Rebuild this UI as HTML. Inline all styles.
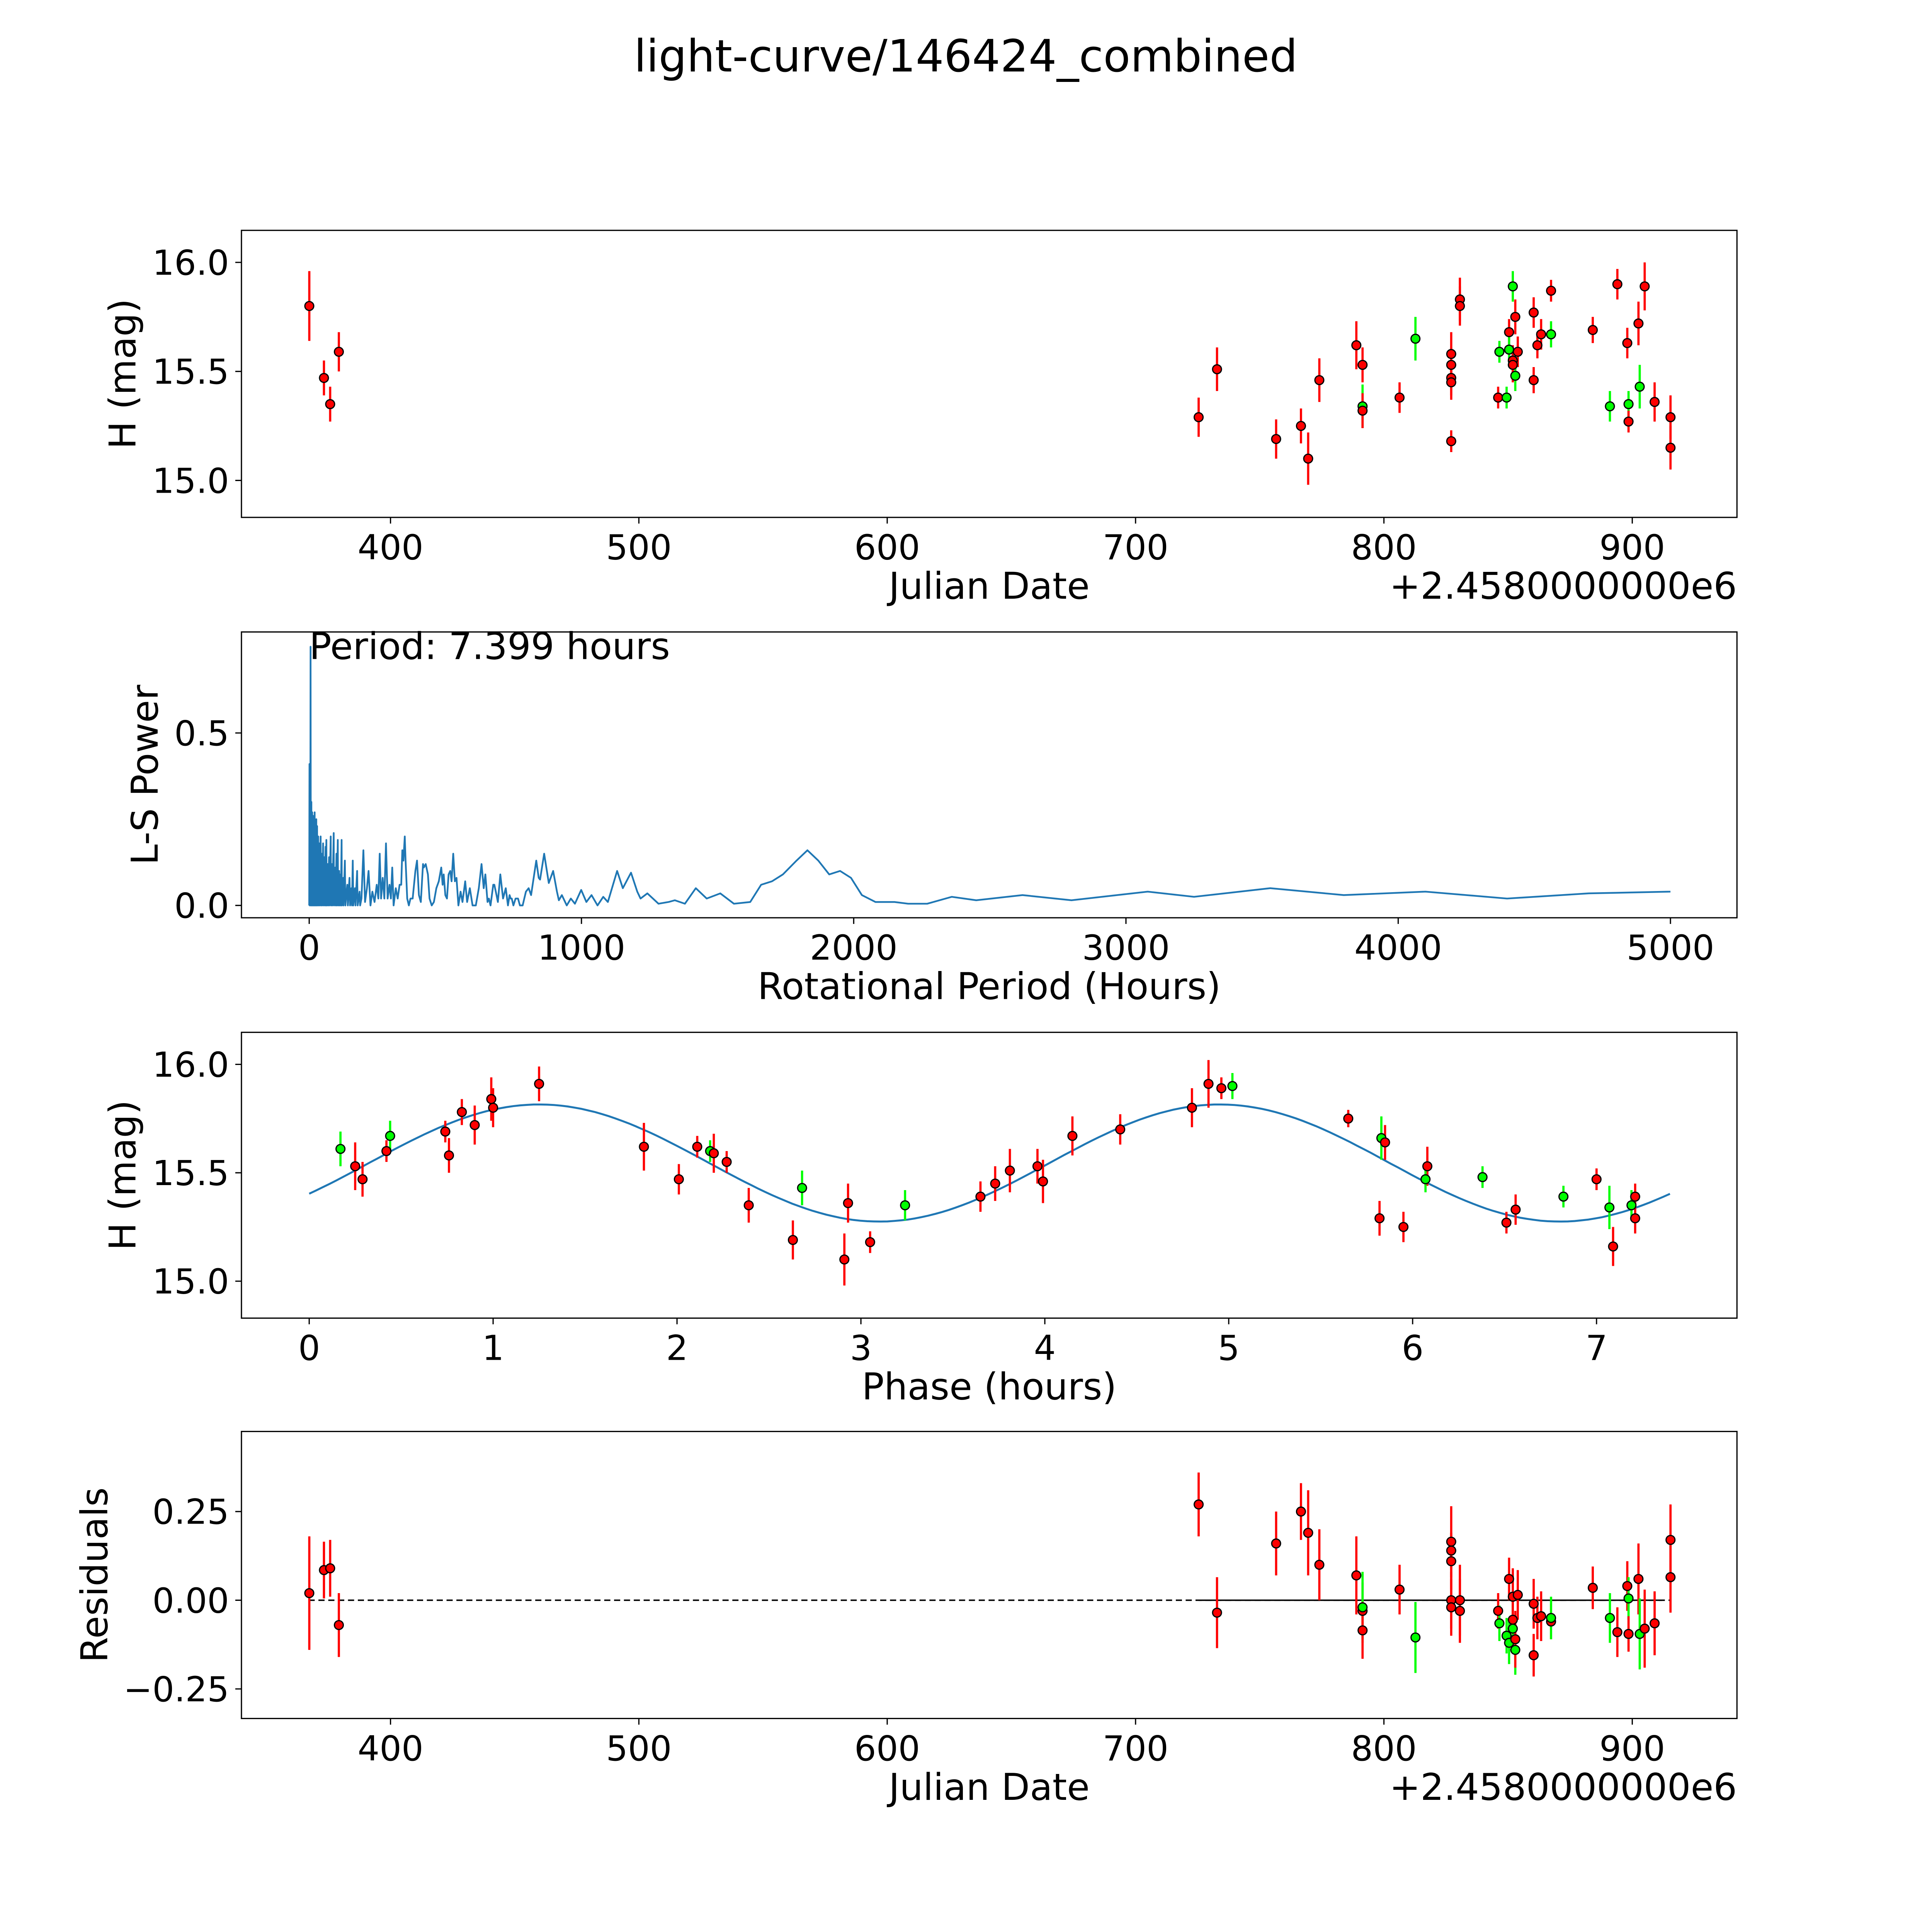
<!DOCTYPE html>
<html><head><meta charset="utf-8">
<style>html,body{margin:0;padding:0;background:#fff;overflow:hidden;width:100%;height:100%}svg{display:block;width:100vw;height:100vh}</style>
</head><body>
<svg id="fig" viewBox="0 0 1568 1568" preserveAspectRatio="xMinYMin meet" xmlns="http://www.w3.org/2000/svg" font-family="'DejaVu Sans','Liberation Sans',sans-serif">
<rect width="1568" height="1568" fill="#fff"/>
<text x="784" y="58" font-size="36" text-anchor="middle">light-curve/146424_combined</text>
</svg>
<script>
// ---- data ----
const lcDates=[367.3,373.2,375.7,379.2,725.4,732.8,756.6,766.6,769.5,774,788.9,791.4,791.4,791.4,806.3,812.7,827.1,827.1,827.1,827.1,827.1,830.6,830.6,846,846.5,849.4,850.4,850.4,851.9,851.9,851.9,852.9,852.9,853.9,860.3,860.3,861.8,863.3,867.3,867.3,884.1,891,894,898,898.5,898.5,902.5,903,905,909,915.4,915.4];
const lcMags=[15.80,15.47,15.35,15.59,15.29,15.51,15.19,15.25,15.10,15.46,15.62,15.53,15.34,15.32,15.38,15.65,15.58,15.53,15.47,15.45,15.18,15.83,15.80,15.38,15.59,15.38,15.68,15.60,15.55,15.89,15.53,15.48,15.75,15.59,15.46,15.77,15.62,15.67,15.87,15.67,15.69,15.34,15.90,15.63,15.35,15.27,15.72,15.43,15.89,15.36,15.29,15.15];
const lcErrs=[0.16,0.08,0.08,0.09,0.09,0.1,0.09,0.08,0.12,0.1,0.11,0.08,0.1,0.08,0.07,0.1,0.1,0.08,0.08,0.08,0.05,0.1,0.09,0.05,0.05,0.05,0.06,0.06,0.07,0.07,0.08,0.07,0.08,0.07,0.06,0.07,0.06,0.07,0.05,0.06,0.06,0.07,0.07,0.07,0.06,0.05,0.1,0.1,0.11,0.09,0.1,0.1];
const lcGreen=[0,0,0,0,0,0,0,0,0,0,0,0,1,0,0,1,0,0,0,0,0,0,0,0,1,1,0,1,0,1,0,1,0,0,0,0,0,0,0,1,0,1,0,0,1,0,0,1,0,0,0,0];
const resValues=[0.02,0.085,0.09,-0.07,0.27,-0.035,0.16,0.25,0.19,0.10,0.07,-0.03,-0.02,-0.085,0.03,-0.105,0.165,0.11,0.0,-0.02,0.14,0.0,-0.03,-0.03,-0.065,-0.10,0.06,-0.12,-0.055,-0.08,0.01,-0.14,-0.11,0.015,-0.155,-0.01,-0.05,-0.045,-0.06,-0.05,0.035,-0.05,-0.09,0.04,0.005,-0.095,0.06,-0.095,-0.08,-0.065,0.17,0.065];
const phPhase=[0.17,0.25,0.29,0.42,0.44,0.74,0.76,0.83,0.90,0.99,1.0,1.25,1.82,2.01,2.11,2.18,2.2,2.27,2.39,2.63,2.68,2.91,2.93,3.05,3.24,3.65,3.73,3.81,3.96,3.99,4.15,4.41,4.80,4.89,4.96,5.02,5.65,5.83,5.85,5.82,5.95,6.08,6.07,6.38,6.51,6.56,6.82,7.0,7.07,7.09,7.19,7.21,7.21];
const phMags=[15.61,15.53,15.47,15.60,15.67,15.69,15.58,15.78,15.72,15.84,15.80,15.91,15.62,15.47,15.62,15.60,15.59,15.55,15.35,15.19,15.43,15.10,15.36,15.18,15.35,15.39,15.45,15.51,15.53,15.46,15.67,15.70,15.80,15.91,15.89,15.90,15.75,15.66,15.64,15.29,15.25,15.53,15.47,15.48,15.27,15.33,15.39,15.47,15.34,15.16,15.35,15.29,15.39];
const phErrs=[0.08,0.11,0.08,0.05,0.07,0.05,0.08,0.06,0.09,0.1,0.09,0.08,0.11,0.07,0.05,0.05,0.09,0.05,0.08,0.09,0.08,0.12,0.09,0.05,0.07,0.07,0.08,0.1,0.08,0.1,0.09,0.07,0.09,0.11,0.05,0.06,0.04,0.1,0.08,0.08,0.07,0.09,0.06,0.05,0.05,0.07,0.05,0.05,0.1,0.09,0.07,0.07,0.06];
const phGreen=[1,0,0,0,1,0,0,0,0,0,0,0,0,0,0,1,0,0,0,0,1,0,0,0,1,0,0,0,0,0,0,0,0,0,0,1,0,1,0,0,0,0,1,1,0,0,1,0,1,0,1,0,0];
const lsPeriods=[0,1,2,3,4,5,6,8,9,11,12,14,15,17,18,20,21,23,24,26,27,29,30,33,34,37,38,42,43,46,47,51,52,56,57,60,61,63,64,68,69,73,74,79,80,84,85,90,91,96,97,100,101,105,106,110,111,115,116,119,120,125,126,131,133,140,142,148,150,155,157,160,162,168,170,176,178,185,187,192,199,205,212,218,225,232,240,248,254,259,264,270,276,282,288,295,300,305,310,318,325,332,338,342,346,351,354,360,366,372,380,390,396,403,410,418,421,428,436,442,450,458,467,476,485,490,494,500,506,512,518,523,529,535,541,548,556,563,573,580,590,600,612,623,633,641,647,655,660,666,676,680,688,693,702,712,722,730,736,740,744,750,758,767,774,784,796,806,815,834,843,848,863,880,896,910,917,928,946,961,976,999,1018,1037,1059,1080,1097,1131,1152,1182,1205,1217,1242,1283,1320,1343,1380,1420,1460,1510,1560,1620,1660,1700,1740,1790,1830,1870,1910,1950,1990,2030,2080,2150,2200,2270,2360,2450,2620,2800,3080,3250,3530,3800,4100,4400,4700,5000];
const lsPower=[0,0.41,0,0.3,0.05,0.75,0,0.3,0,0.27,0,0.26,0,0.25,0,0.27,0,0.24,0,0.25,0,0.23,0,0.2,0,0.18,0,0.2,0,0.15,0,0.18,0,0.14,0,0.17,0,0.19,0,0.12,0,0.14,0,0.2,0,0.12,0,0.21,0,0.11,0,0.15,0,0.19,0,0.1,0,0.09,0,0.19,0,0.08,0,0.13,0,0.06,0,0.08,0,0.05,0,0.13,0,0.05,0,0.1,0,0.04,0,0.02,0.16,0.01,0.05,0.1,0,0.04,0.01,0.06,0.02,0.15,0.02,0.08,0.02,0.18,0.02,0.06,0.02,0.11,0,0.05,0.02,0.06,0.06,0.16,0.13,0.2,0.13,0.02,0,0.02,0.02,0.1,0.13,0.03,0.01,0.12,0.11,0.12,0.09,0.02,0,0.01,0.05,0.07,0.11,0.06,0.09,0.03,0.02,0.09,0.1,0.07,0.15,0.07,0.08,0,0.04,0.01,0.07,0.01,0.05,0,0,0.05,0.12,0.05,0.09,0.01,0.02,0,0.06,0.06,0.03,0.01,0.09,0.02,0.05,0,0.03,0.02,0.02,0,0.02,0.02,0,0,0.04,0.05,0.03,0.13,0.08,0.075,0.15,0.065,0.1,0.04,0.015,0.03,0,0.02,0.005,0.045,0.01,0.03,0,0.025,0.01,0.1,0.05,0.095,0.04,0.02,0.035,0.005,0.01,0.015,0.005,0.05,0.02,0.035,0.005,0.01,0.06,0.07,0.09,0.13,0.16,0.13,0.09,0.1,0.08,0.03,0.01,0.01,0.005,0.005,0.025,0.015,0.03,0.015,0.04,0.025,0.05,0.03,0.04,0.02,0.035,0.04];
const fitMean=15.545, fitAmp=0.27, fitHalfPeriod=3.7, fitOffset=0.325, periodHours=7.399;

// ---- drawing ----
const NS='http://www.w3.org/2000/svg', svg=document.getElementById('fig');
(function(){const w=Math.min(window.innerWidth,window.innerHeight)-1;svg.style.width=w+'px';svg.style.height=w+'px';})();
function mk(tag,attrs,parent){const e=document.createElementNS(NS,tag);for(const k in attrs)e.setAttribute(k,attrs[k]);(parent||svg).appendChild(e);return e;}
function lin(d0,d1,p0,p1){return v=>p0+(v-d0)*(p1-p0)/(d1-d0);}
function panel(name,box,xs,ys,xt,yt,xl,yl,offset,ylOff){
  const g=mk('g',{});
  
  
  const [x0,y0,x1,y1]=box;
  xt.forEach(t=>{const p=xs(t);mk('line',{x1:p,x2:p,y1:y1,y2:y1+5,stroke:'#000','stroke-width':1},g);
    const tx=mk('text',{x:p,y:y1+34,'font-size':28,'text-anchor':'middle'},g);tx.textContent=t;
    });
  yt.forEach(t=>{const p=ys(t);mk('line',{x1:x0-5,x2:x0,y1:p,y2:p,stroke:'#000','stroke-width':1},g);
    const tx=mk('text',{x:x0-10,y:p+10,'font-size':28,'text-anchor':'end'},g);tx.textContent=t.lab;
    });
  const xa=mk('text',{x:(x0+x1)/2,y:y1+66,'font-size':30,'text-anchor':'middle'},g);xa.textContent=xl;
  
  const ya=mk('text',{x:0,y:0,'font-size':30,'text-anchor':'middle',transform:`translate(${x0-ylOff},${(y0+y1)/2}) rotate(-90)`},g);ya.textContent=yl;
  
  if(offset){const o=mk('text',{x:x1,y:y1+66,'font-size':30,'text-anchor':'end'},g);o.textContent=offset;
    }
  return g;
}
function frame(g,box){const r=mk('rect',{x:box[0],y:box[1],width:box[2]-box[0],height:box[3]-box[1],fill:'none',stroke:'#000','stroke-width':1},g);
  }
function yt(vals,fmt){return vals.map(v=>{const o=Number(v);return {valueOf:()=>o,lab:fmt(v)};});}
function pts(g,xsArr,ysArr,errs,green,xs,ys){
  xsArr.forEach((xv,i)=>{const c=green[i]?'#00ff00':'#ff0000';
    const l=mk('line',{x1:xs(xv),x2:xs(xv),y1:ys(ysArr[i]-errs[i]),y2:ys(ysArr[i]+errs[i]),stroke:c,'stroke-width':1.8},g);
    });
  xsArr.forEach((xv,i)=>{const c=green[i]?'#00ff00':'#ff0000';
    const m=mk('circle',{cx:xs(xv),cy:ys(ysArr[i]),r:3.6,fill:c,stroke:'#000','stroke-width':1},g);
    });
}
const jdX=lin(400,900,317,1325);
// panel 1
{const box=[196,187,1410,420];const ys=lin(15,16,390,213);
 const g=panel('light-curve-panel',box,jdX,ys,[400,500,600,700,800,900],yt([15,15.5,16],v=>v.toFixed(1)),'Julian Date','H (mag)','+2.4580000000e6',86);
 pts(g,lcDates,lcMags,lcErrs,lcGreen,jdX,ys);frame(g,box);}
// panel 2
{const box=[196,513,1410,745];const xs=lin(0,5000,251,1356),ys=lin(0,0.5,735,595);
 const g=panel('periodogram-panel',box,xs,ys,[0,1000,2000,3000,4000,5000],yt([0,0.5],v=>v.toFixed(1)),'Rotational Period (Hours)','L-S Power',null,68);
 const d=lsPeriods.map((p,i)=>(i?'L':'M')+xs(p).toFixed(2)+' '+ys(lsPower[i]).toFixed(1)).join(' ');
 const p=mk('path',{d:d,fill:'none',stroke:'#1f77b4','stroke-width':1.4,'stroke-linejoin':'round'},g);
 
 const t=mk('text',{x:251,y:535,'font-size':30},g);t.textContent='Period: '+periodHours.toFixed(3)+' hours';
 
 frame(g,box);}
// panel 3
{const box=[196,838,1410,1070];const xs=lin(0,7,251,1296),ys=lin(15,16,1040,864);
 const g=panel('phase-fold-panel',box,xs,ys,[0,1,2,3,4,5,6,7],yt([15,15.5,16],v=>v.toFixed(1)),'Phase (hours)','H (mag)',null,86);
 let d='';for(let i=0;i<=200;i++){const ph=periodHours*i/200;const m=fitMean+fitAmp*Math.sin(2*Math.PI*(ph-fitOffset)/fitHalfPeriod);d+=(i?'L':'M')+xs(ph).toFixed(1)+' '+ys(m).toFixed(1);}
 const p=mk('path',{d:d,fill:'none',stroke:'#1f77b4','stroke-width':1.6},g);
 
 pts(g,phPhase,phMags,phErrs,phGreen,xs,ys);frame(g,box);}
// panel 4
{const box=[196,1162,1410,1395];const ys=lin(0,0.25,1299,1227);
 const g=panel('residuals-panel',box,jdX,ys,[400,500,600,700,800,900],yt([-0.25,0,0.25],v=>(v<0?'\u2212':'')+Math.abs(v).toFixed(2)),'Julian Date','Residuals','+2.4580000000e6',109);
 const dl=mk('line',{x1:jdX(367),x2:jdX(915.4),y1:ys(0),y2:ys(0),stroke:'#000','stroke-width':1.2,'stroke-dasharray':'5,3'},g);
 
 const sl=mk('line',{x1:jdX(725.4),x2:jdX(912),y1:ys(0),y2:ys(0),stroke:'#000','stroke-width':1.2},g);
 
 pts(g,lcDates,resValues,lcErrs,lcGreen,jdX,ys);frame(g,box);}
</script>
</body></html>
